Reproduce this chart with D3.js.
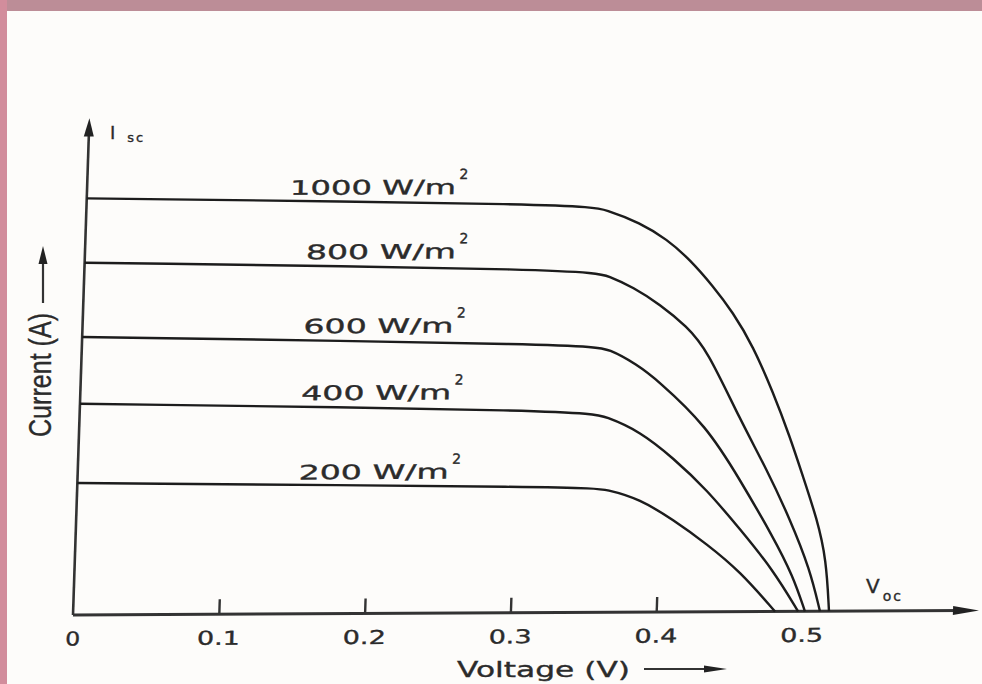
<!DOCTYPE html>
<html>
<head>
<meta charset="utf-8">
<script src="https://cdn.jsdelivr.net/npm/d3@7/dist/d3.min.js"></script>
<style>
  html, body { margin: 0; padding: 0; background: #fdfcfa; }
  svg { display: block; }
  text { stroke: #2b2b2b; stroke-width: 0.35px; }
</style>
</head>
<body>
<svg id="chart" width="982" height="684"></svg>
<script>
// ---------- data ----------
const irradianceLabels = ["1000 W/m", "800 W/m", "600 W/m", "400 W/m", "200 W/m"];
const xTickValues = [0, 0.1, 0.2, 0.3, 0.4, 0.5];

const v1000 = [0, 0.340, 0.3571, 0.380, 0.3989, 0.4152, 0.4315, 0.4458, 0.4604, 0.4751, 0.4877, 0.4975, 0.5082, 0.5155, 0.5185];
const i1000 = [5.05, 4.95, 4.88, 4.72, 4.52, 4.27, 3.95, 3.63, 3.22, 2.66, 2.12, 1.64, 1.12, 0.63, 0];

const v800 = [0, 0.3454, 0.3606, 0.3767, 0.3956, 0.4146, 0.4289, 0.4531, 0.4727, 0.4896, 0.5045, 0.5123];
const i800 = [4.27, 4.16, 4.07, 3.94, 3.73, 3.46, 3.18, 2.33, 1.72, 1.12, 0.51, 0];

const v600 = [0, 0.3464, 0.3623, 0.3812, 0.3952, 0.4306, 0.4544, 0.4783, 0.493, 0.502];
const i600 = [3.37, 3.25, 3.19, 3.00, 2.82, 2.25, 1.60, 0.91, 0.43, 0];

const v400 = [0, 0.3452, 0.3618, 0.3848, 0.408, 0.432, 0.4556, 0.479, 0.4973];
const i400 = [2.56, 2.45, 2.37, 2.19, 1.87, 1.48, 1.00, 0.51, 0];

const v200 = [0, 0.3497, 0.3634, 0.3863, 0.4094, 0.4333, 0.4565, 0.4815];
const i200 = [1.60, 1.52, 1.49, 1.37, 1.12, 0.82, 0.49, 0];

const seriesV = [v1000, v800, v600, v400, v200];
const seriesI = [i1000, i800, i600, i400, i200];

// ---------- drawing ----------
const svg = d3.select("#chart");
const ink = "#1c1c1c";
const textInk = "#2b2b2b";

// scanned page background + pink frame
svg.append("rect").attr("x", 0).attr("y", 0).attr("width", 982).attr("height", 684).attr("fill", "#fdfcfa");
svg.append("rect").attr("x", 0).attr("y", 0).attr("width", 982).attr("height", 11).attr("fill", "#bc8d97");
svg.append("rect").attr("x", 0).attr("y", 0).attr("width", 7).attr("height", 684).attr("fill", "#d28d9c");

const xScale = d3.scaleLinear().domain([0, 0.5]).range([0, 729]);
const yScale = d3.scaleLinear().domain([0, 6]).range([0, -495]);

// plot group, slightly sheared like the scanned drawing
const g = svg.append("g")
  .attr("transform", "matrix(1,-0.005,-0.033,1,73,615)");

// x axis line with arrow
g.append("line").attr("x1", 0).attr("y1", 0).attr("x2", 890).attr("y2", 0)
  .attr("stroke", "#333").attr("stroke-width", 3);
g.append("path").attr("d", "M880,-4.5 L906,0 L880,4.5 Z").attr("fill", "#222");

// y axis line with arrow
g.append("line").attr("x1", 0).attr("y1", 0).attr("x2", 0).attr("y2", yScale(5.85))
  .attr("stroke", "#333").attr("stroke-width", 2.6);
g.append("path").attr("d", `M-5,${yScale(5.8)} L0,${yScale(6.02)} L5,${yScale(5.8)} Z`).attr("fill", "#222");

// x axis ticks + labels
const xAxis = d3.axisBottom(xScale)
  .tickValues(xTickValues)
  .tickSizeInner(-15)
  .tickSizeOuter(0)
  .tickPadding(17)
  .tickFormat(d => d === 0 ? "0" : d3.format(".1f")(d));
const ax = g.append("g").call(xAxis);
ax.select(".domain").remove();
ax.selectAll(".tick line")
  .attr("stroke", "#333").attr("stroke-width", 2.4)
  .attr("display", d => (d === 0 || d === 0.5) ? "none" : null);
ax.selectAll(".tick text")
  .attr("fill", textInk)
  .attr("font-family", "DejaVu Sans, sans-serif")
  .attr("font-size", 19)
  .attr("textLength", d => d === 0 ? 15 : 43)
  .attr("lengthAdjust", "spacingAndGlyphs");

// I-V curves
const line = d3.line()
  .x(d => xScale(d[0]))
  .y(d => yScale(d[1]))
  .curve(d3.curveBasis);

seriesV.forEach((vs, k) => {
  const pts = vs.map((v, j) => [v, seriesI[k][j]]);
  g.append("path").attr("d", line(pts))
    .attr("fill", "none").attr("stroke", ink).attr("stroke-width", 2.4)
    .attr("stroke-linejoin", "round");
});

// curve labels
irradianceLabels.forEach((lab, k) => {
  const x0 = k === 0 ? 203 : 221;
  const w = k === 0 ? 166 : 150;
  const yb = yScale(seriesI[k][0]) - 2.5;
  g.append("text").attr("x", x0).attr("y", yb)
    .attr("fill", textInk)
    .attr("font-family", "DejaVu Sans, sans-serif")
    .attr("font-size", 20)
    .attr("textLength", w).attr("lengthAdjust", "spacingAndGlyphs")
    .text(lab);
  g.append("text").attr("x", x0 + w + 3).attr("y", yb - 15)
    .attr("fill", textInk)
    .attr("font-family", "DejaVu Sans, sans-serif")
    .attr("font-size", 14)
    .text("2");
});

// y-axis title
svg.append("text")
  .attr("transform", "translate(51,375) rotate(-90)")
  .attr("text-anchor", "middle")
  .attr("fill", textInk)
  .attr("font-family", "Liberation Sans Narrow, Liberation Sans, Arial, sans-serif")
  .attr("font-size", 31)
  .attr("textLength", 124).attr("lengthAdjust", "spacingAndGlyphs")
  .text("Current (A)");
svg.append("line").attr("x1", 43).attr("y1", 303).attr("x2", 43).attr("y2", 258)
  .attr("stroke", "#333").attr("stroke-width", 2.2);
svg.append("path").attr("d", "M38.5,264 L43,246 L47.5,264 Z").attr("fill", "#222");

// x-axis title
svg.append("text").attr("x", 457).attr("y", 677)
  .attr("fill", textInk)
  .attr("font-family", "DejaVu Sans, sans-serif")
  .attr("font-size", 21)
  .attr("textLength", 173).attr("lengthAdjust", "spacingAndGlyphs")
  .text("Voltage (V)");
svg.append("line").attr("x1", 644).attr("y1", 669).attr("x2", 712).attr("y2", 669)
  .attr("stroke", "#333").attr("stroke-width", 2.2);
svg.append("path").attr("d", "M704,665.5 L727,669 L704,672.5 Z").attr("fill", "#222");

// Isc and Voc marks
const isc = svg.append("text").attr("x", 110).attr("y", 139)
  .attr("fill", textInk).attr("font-family", "DejaVu Sans, sans-serif").attr("font-size", 18);
isc.append("tspan").text("I");
isc.append("tspan").attr("dx", 12).attr("dy", 3).attr("font-size", 13).attr("letter-spacing", 2).text("sc");

const voc = svg.append("text").attr("x", 866).attr("y", 593)
  .attr("fill", textInk).attr("font-family", "DejaVu Sans, sans-serif").attr("font-size", 20);
voc.append("tspan").text("V");
voc.append("tspan").attr("dx", 3).attr("dy", 8).attr("font-size", 14).attr("letter-spacing", 2).text("oc");
</script>
</body>
</html>
